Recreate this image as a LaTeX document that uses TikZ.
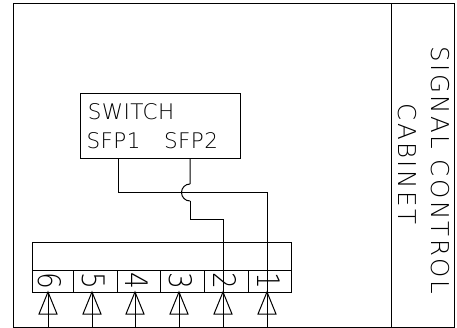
\documentclass[tikz,border=0pt]{standalone}
\usepackage{fontspec}
\newfontfamily\cadfont[LetterSpace=2]{DejaVu Sans ExtraLight}
\newfontfamily\cadwide[LetterSpace=10]{DejaVu Sans ExtraLight}
\newfontfamily\cadnum{DejaVu Sans ExtraLight}
\tikzset{
    wire/.style={line width=1pt},
    lbl/.style={inner sep=0pt,font=\cadfont\fontsize{21.5}{21.5}\selectfont},
    vlbl/.style={inner sep=0pt,rotate=-90,font=\cadwide\fontsize{24.5}{24.5}\selectfont},
    numlbl/.style={inner sep=0pt,transform shape,rotate=-90,xscale=.85,font=\cadnum\fontsize{31}{31}\selectfont}
}
\begin{document}
\begin{tikzpicture}[x=1pt,y=-1pt]
    \useasboundingbox (0,0) rectangle (457,328);

    % Armoire
    \draw[wire] (13,4) rectangle (391,327);
    \draw[wire] (391,4) rectangle (454,327);
    \node[vlbl] (signal) at (440,170.5) {SIGNAL CONTROL};
    \node[vlbl] (cabinet) at (407,164) {CABINET};

    % Switch
    \node[draw,wire,minimum width=160pt,minimum height=65pt,inner sep=0pt] (switch) at (160,126.5) {};
    \node[lbl] (swname) at (131,112) {SWITCH};
    \node[lbl] (swport1) at (113.5,141) {SFP1};
    \node[lbl] (swport2) at (191,141) {SFP2};

    % Bornier
    \draw[wire] (32,243) rectangle (291,270);
    \foreach \n/\xa/\xb/\x in {6/32/73/48,5/73/117/92,4/117/160/135,3/160/204/179,2/204/248/223,1/248/291/267} {
        \draw[wire] (\xa,270) rectangle (\xb,292);
        \node[numlbl] (num\n) at (\x+1.5,280.5) {\n};
        \coordinate (tip\n) at (\x,292);
        \coordinate (foot\n) at (\x,327);
        \draw[wire] (tip\n) -- +(-9,22) -- +(9,22) -- cycle;
        \draw[wire] (foot\n) -- (tip\n);
    }

    % Liaisons
    \coordinate (sfp1) at (118,159);
    \coordinate (sfp2) at (190,159);
    \coordinate (bend1) at (267,193);
    \coordinate (bend2) at (223,220);
    \draw[wire] (sfp1) |- (bend1) -- (tip1);
    \draw[wire] (sfp2) -- (190,184) (190,201) arc[start angle=90,end angle=270,radius=8.5];
    \draw[wire] (190,201) |- (bend2) -- (tip2);
\end{tikzpicture}
\end{document}
